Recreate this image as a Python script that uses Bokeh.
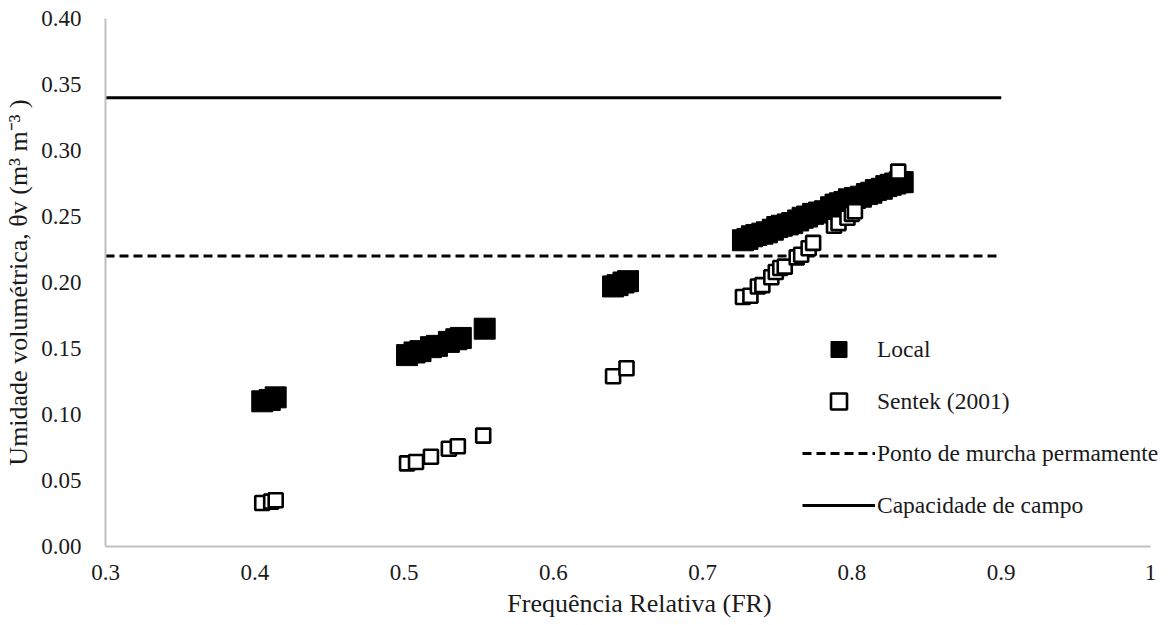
from bokeh.plotting import figure
from bokeh.models import Legend, LegendItem, FixedTicker, Range1d
from bokeh.embed import file_html
from bokeh.resources import INLINE

# ---- data ----
fr_local = [0.405, 0.410, 0.414,
            0.502, 0.507, 0.511, 0.518, 0.522, 0.530, 0.535, 0.538, 0.554,
            0.640, 0.643, 0.647, 0.650,
            0.727, 0.730, 0.733, 0.736, 0.740, 0.743, 0.747, 0.750, 0.753, 0.757,
            0.760, 0.764, 0.767, 0.770, 0.774, 0.778, 0.782, 0.786, 0.789, 0.792,
            0.795, 0.798, 0.802, 0.806, 0.810, 0.813, 0.816, 0.820, 0.823, 0.826,
            0.829, 0.832, 0.834]
theta_local = [0.110, 0.111, 0.113,
               0.145, 0.147, 0.148, 0.151, 0.152, 0.155, 0.157, 0.158, 0.165,
               0.197, 0.198, 0.200, 0.201,
               0.232, 0.233, 0.235, 0.236, 0.237, 0.238, 0.240, 0.242, 0.243, 0.244,
               0.245, 0.247, 0.249, 0.250, 0.252, 0.253, 0.254, 0.257, 0.259, 0.260,
               0.261, 0.263, 0.264, 0.265, 0.267, 0.268, 0.270, 0.271, 0.273, 0.274,
               0.275, 0.276, 0.276]

fr_sentek = [0.405, 0.411, 0.414,
             0.502, 0.508, 0.518, 0.530, 0.536, 0.553,
             0.640, 0.649,
             0.727, 0.732, 0.737, 0.740, 0.746, 0.749, 0.752, 0.755, 0.763, 0.766,
             0.771, 0.774, 0.788, 0.791, 0.797, 0.800, 0.802, 0.831]
theta_sentek = [0.033, 0.034, 0.035,
                0.063, 0.064, 0.068, 0.074, 0.076, 0.084,
                0.129, 0.135,
                0.189, 0.190, 0.197, 0.198, 0.204, 0.208, 0.211, 0.212, 0.219, 0.221,
                0.226, 0.230, 0.243, 0.245, 0.249, 0.252, 0.254, 0.284]

line_fr = [0.3, 0.9]
pmp = [0.22, 0.22]   # Ponto de murcha permanente
cc = [0.34, 0.34]    # Capacidade de campo

x_ticks = [0.3, 0.4, 0.5, 0.6, 0.7, 0.8, 0.9, 1.0]
x_labels = ["0.3", "0.4", "0.5", "0.6", "0.7", "0.8", "0.9", "1"]
y_ticks = [0.0, 0.05, 0.10, 0.15, 0.20, 0.25, 0.30, 0.35, 0.40]
y_labels = ["0.00", "0.05", "0.10", "0.15", "0.20", "0.25", "0.30", "0.35", "0.40"]

FONT = "Liberation Serif"
TXT = "#1a1a1a"

p = figure(width=1173, height=625, output_backend="svg", toolbar_location=None,
           x_range=Range1d(0.3, 1.0154), y_range=Range1d(0.0, 0.4),
           min_border_left=105, min_border_right=0, min_border_top=18, min_border_bottom=79)
p.outline_line_color = None
p.xgrid.visible = False
p.ygrid.visible = False
p.background_fill_color = "white"
p.border_fill_color = "white"

cc_r = p.line(line_fr, cc, line_color="black", line_width=3)
pmp_r = p.line(line_fr, pmp, line_color="black", line_width=3, line_dash="9 5")
loc_r = p.scatter(fr_local, theta_local, marker="square", size=21,
                  fill_color="black", line_color="black", line_width=1)
sen_r = p.scatter(fr_sentek, theta_sentek, marker="square", size=14,
                  fill_color="white", line_color="black", line_width=2.6)

for ax, ticks, labels in ((p.xaxis[0], x_ticks, x_labels), (p.yaxis[0], y_ticks, y_labels)):
    ax.ticker = FixedTicker(ticks=ticks)
    ax.major_label_overrides = {t: l for t, l in zip(ticks, labels)}
    ax.axis_line_color = "#c0c0c0"
    ax.axis_line_width = 2
    ax.major_tick_line_color = None
    ax.minor_tick_line_color = None
    ax.major_label_text_font = FONT
    ax.major_label_text_font_size = "23px"
    ax.major_label_text_color = TXT
    ax.axis_label_text_font = FONT
    ax.axis_label_text_font_size = "26px"
    ax.axis_label_text_font_style = "normal"
    ax.axis_label_text_color = TXT

p.xaxis[0].bounds = (0.3, 1.0)
p.xaxis[0].axis_label = "Frequência Relativa (FR)"
p.xaxis[0].major_label_standoff = 12
p.xaxis[0].axis_label_standoff = 6
p.yaxis[0].axis_label = "Umidade volumétrica, θv (m³ m⁻³ )"
p.yaxis[0].major_label_standoff = 18
p.yaxis[0].axis_label_standoff = 5

legend = Legend(items=[
    LegendItem(label="Local", renderers=[loc_r]),
    LegendItem(label="Sentek (2001)", renderers=[sen_r]),
    LegendItem(label="Ponto de murcha permamente", renderers=[pmp_r]),
    LegendItem(label="Capacidade de campo", renderers=[cc_r]),
], location=(697, 21))
legend.border_line_color = None
legend.background_fill_alpha = 0
legend.padding = 0
legend.margin = 0
legend.glyph_width = 73
legend.glyph_height = 40
legend.label_height = 40
legend.spacing = 12
legend.label_standoff = 2
legend.label_text_font = FONT
legend.label_text_font_size = "23.5px"
legend.label_text_color = TXT
p.add_layout(legend)

open("out.html", "w").write(file_html(p, INLINE))
